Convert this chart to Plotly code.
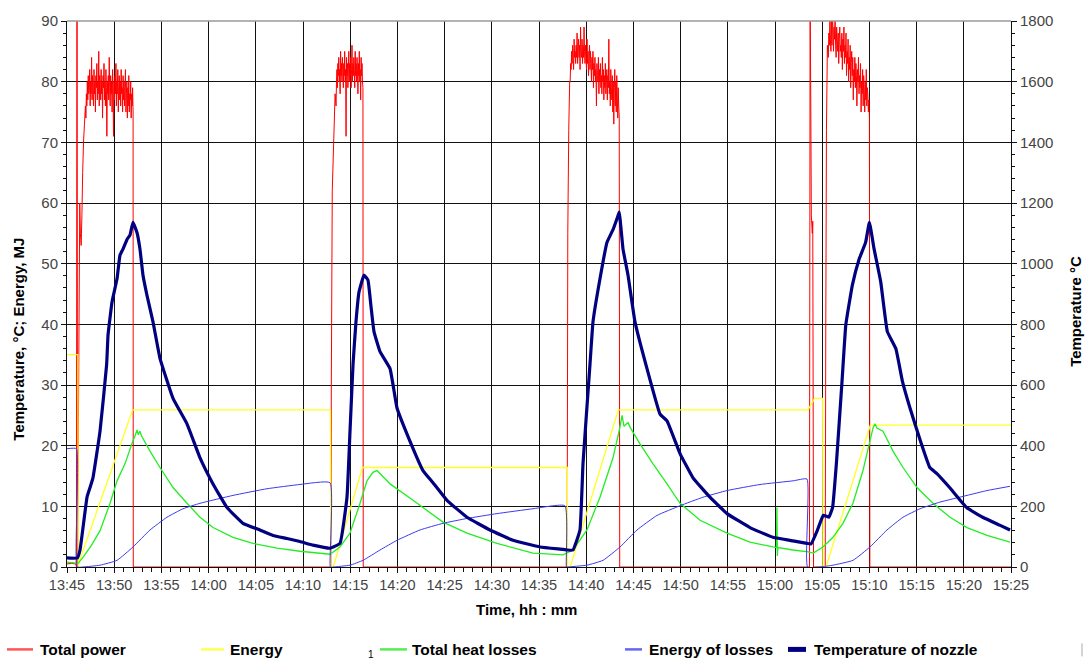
import pandas as pd
import plotly.graph_objects as go

# ---------------------------------------------------------------------------
# Time base: all series are given in minutes after 13:45
# ---------------------------------------------------------------------------
T0 = pd.Timestamp("2010-01-01 13:45:00")


def clock(minutes):
    return [T0 + pd.Timedelta(minutes=float(m)) for m in minutes]


def spread(t_start, t_end, values):
    n = len(values)
    return [t_start + (t_end - t_start) * i / (n - 1) for i in range(n)]


# ---------------------------------------------------------------------------
# Total power (left axis): switch-on transients and four noisy plateaus
# ---------------------------------------------------------------------------
pw_start_t = [0, 0.5, 0.95, 1.0, 1.06, 1.12, 1.35, 1.42, 1.5, 1.58, 1.66, 1.75, 1.85, 1.95]
pw_start_v = [0.5, 0.6, 0.5, 0, 95, 0, 60, 55, 53, 58, 65, 70, 73, 76]

pw_plateau1 = [74, 78, 76, 80, 77, 81, 78, 79, 82, 76, 80, 78, 84, 77, 81, 79, 76, 82, 78, 80,
               75, 81, 79, 83, 77, 80, 78, 85, 76, 81, 79, 77, 82, 78, 80, 74, 81, 79, 83, 77,
               80, 76, 82, 79, 71, 80, 78, 81, 77, 84, 79, 76, 81, 78, 80, 75, 82, 79, 71, 80,
               77, 81, 78, 83, 76, 80, 78, 82, 75, 79, 81, 77, 80, 76, 82, 78, 79, 75, 81, 77,
               80, 76, 79, 82, 75, 78, 80, 74, 79, 76, 81, 75, 78, 77, 80, 74, 78, 76, 79, 75]

pw_gap1_t = [7.02, 27.95, 28.0, 28.1, 28.25, 28.4]
pw_gap1_v = [0, 0, 30, 62, 70, 78]

pw_plateau2 = [76, 80, 82, 79, 83, 81, 84, 80, 82, 78, 85, 81, 83, 80, 84, 82, 79, 83, 81, 85,
               80, 82, 71, 84, 81, 83, 79, 82, 85, 80, 83, 81, 84, 79, 82, 86, 80, 83, 81, 84,
               82, 79, 85, 81, 83, 80, 84, 82, 78, 83, 81, 85, 80, 82, 77, 84, 81, 83, 80, 79]

pw_gap2_t = [31.38, 52.98, 53.05, 53.15, 53.25]
pw_gap2_v = [0, 0, 55, 72, 80]

pw_plateau3 = [80, 83, 82, 85, 83, 86, 84, 82, 87, 84, 85, 83, 86, 84, 88, 83, 85, 87, 84, 86,
               82, 89, 85, 84, 87, 83, 86, 84, 89, 85, 83, 86, 84, 82, 87, 83, 85, 81, 84, 86,
               82, 85, 83, 80, 84, 82, 85, 79, 83, 81, 84, 80, 82, 76, 83, 81, 80, 84, 78, 82,
               80, 83, 79, 81, 78, 84, 80, 82, 77, 81, 79, 83, 78, 80, 82, 77, 81, 79, 87, 78,
               80, 76, 82, 79, 77, 81, 75, 80, 73, 79, 82, 76, 80, 75, 81, 78, 74, 79, 76, 74]

pw_gap3_t = [58.55, 78.65, 78.72, 78.8, 78.85, 78.95, 79.0, 79.08, 80.32, 80.38, 80.45, 80.55]
pw_gap3_v = [0, 0, 95, 74, 58, 55, 57, 0, 0, 40, 72, 86]

pw_plateau4 = [84, 88, 86, 91, 87, 85, 90, 86, 92, 88, 85, 89, 87, 91, 86, 84, 89, 87, 85, 88,
               83, 87, 89, 85, 86, 84, 88, 82, 87, 85, 89, 83, 86, 84, 88, 81, 85, 83, 87, 80,
               84, 82, 86, 79, 83, 85, 81, 84, 77, 82, 80, 84, 79, 83, 81, 76, 82, 80, 84, 78,
               81, 79, 83, 75, 80, 78, 82, 76, 81, 79, 75, 80, 77, 82, 76, 79, 78, 75, 77, 74]

pw_end_t = [85.05, 100]
pw_end_v = [0, 0]

power_t = (pw_start_t + spread(2.0, 7.0, pw_plateau1) + pw_gap1_t
           + spread(28.5, 31.35, pw_plateau2) + pw_gap2_t
           + spread(53.3, 58.5, pw_plateau3) + pw_gap3_t
           + spread(80.65, 85.0, pw_plateau4) + pw_end_t)
power_v = (pw_start_v + pw_plateau1 + pw_gap1_v + pw_plateau2 + pw_gap2_v
           + pw_plateau3 + pw_gap3_v + pw_plateau4 + pw_end_v)

# ---------------------------------------------------------------------------
# Energy, MJ (left axis)
# ---------------------------------------------------------------------------
energy_t = [0, 1.15, 1.18, 1.2, 6.95, 27.9, 27.93, 28.2, 31.3, 53.0, 53.03, 53.3, 58.4,
            78.5, 79.2, 80.05, 80.08, 80.4, 85.1, 100]
energy_v = [35, 35, 0, 0.5, 25.9, 25.9, 0, 0, 16.4, 16.4, 0, 0, 25.9,
            25.9, 27.8, 27.8, 0, 0, 23.4, 23.4]

# ---------------------------------------------------------------------------
# Total heat losses (left axis)
# ---------------------------------------------------------------------------
losses_t = [0, 1.17, 1.69, 2.6, 3.5, 4.56, 5.3, 6.14, 6.99, 7.2, 7.42, 7.55, 7.73, 7.9, 8.79,
            9.85, 11.23, 12.71, 14.09, 15.47, 17.58, 19.7, 22.25, 24.68, 27.86,
            28.92, 29.98, 31.04, 31.78, 32.4, 32.84, 33.1, 34.22, 36.65, 39.83, 42.37, 45.55,
            49.36, 52.54,
            53.6, 55.08, 56.46, 57.84, 58.5, 58.8, 59.0, 59.43, 59.7, 60.7, 62.08, 63.56, 64.94,
            67.06, 69.92, 72.35, 74.79, 75.15, 75.2, 75.25, 75.3, 76.91, 78.5, 79.05, 80.08,
            81.14, 82.2, 83.26, 84.32, 85.06, 85.4, 85.59, 85.8, 86.44, 87.5, 88.56, 90.04,
            91.74, 93.54, 95.34, 97.46, 99.89]
losses_v = [0.8, 0.6, 1.6, 3.6, 6.0, 10.5, 14.2, 17.0, 20.8, 21.6, 22.6, 21.8, 22.4, 21.6, 19.1,
            16.4, 13.1, 10.5, 8.2, 6.5, 4.9, 3.9, 3.1, 2.6, 2.1,
            3.3, 5.6, 10.5, 14.2, 15.6, 15.9, 15.5, 13.7, 11.0, 7.4, 5.6, 3.9,
            2.3, 2.0,
            2.8, 6.1, 11.5, 18.0, 22.5, 25.0, 23.2, 23.8, 22.9, 20.3, 17.0, 13.7, 10.5,
            7.7, 5.6, 4.1, 3.3, 3.2, 9.8, 1.8, 3.2, 2.8, 2.5, 2.3, 3.3,
            4.9, 7.2, 10.5, 15.9, 20.8, 23.0, 23.6, 22.9, 22.4, 19.1, 16.4, 13.1,
            10.5, 8.2, 6.5, 5.2, 4.1]

# ---------------------------------------------------------------------------
# Energy of losses (left axis)
# ---------------------------------------------------------------------------
eloss_t = [0, 1.0, 1.05, 1.69, 3.5, 5.3, 6.99, 8.79, 10.59, 12.29, 14.09, 17.58, 21.19, 24.68,
           27.86, 27.9, 28.18, 29.98, 31.36, 33.16, 34.96, 37.39, 39.83, 42.37, 45.55, 49.36,
           52.75, 52.9, 52.97, 55.08, 56.78, 58.58, 60.38, 62.5, 64.94, 67.37, 69.92, 73.41,
           76.91, 78.39, 78.45, 79.77, 81.14, 83.26, 85.06, 86.86, 88.56, 90.36, 92.48, 95.34,
           97.46, 99.89]
eloss_v = [19.5, 19.5, 0, 0, 0.3, 1.1, 3.3, 6.1, 8.2, 9.6, 10.5, 11.8, 12.9, 13.6,
           13.9, 0, 0, 0.3, 1.1, 2.8, 4.4, 6.1, 7.2, 8.0, 8.8, 9.6,
           10.1, 0, 0, 0.3, 1.1, 3.3, 6.1, 8.5, 10.1, 11.5, 12.6, 13.6,
           14.2, 14.5, 0, 0, 0.3, 1.1, 3.3, 6.1, 8.2, 9.6, 10.7, 11.8,
           12.6, 13.3]

# ---------------------------------------------------------------------------
# Temperature of nozzle, degC (right axis)
# ---------------------------------------------------------------------------
nozzle_t = [0, 1.1, 1.38, 2.12, 2.44, 2.75, 3.5, 4.2, 4.35, 4.77, 5.3, 5.61, 5.93, 6.36, 6.67,
            6.99, 7.42, 7.73, 8.05, 8.47, 9.11, 9.85, 11.23, 12.71, 14.09, 15.47, 16.95, 18.64,
            20.44, 21.82, 23.31, 24.68, 26.06, 27.86,
            28.92, 29.66, 29.98, 30.3, 30.61, 30.93, 31.46, 31.88, 32.2, 32.52, 33.16, 34.22,
            34.96, 36.02, 37.71, 38.77, 40.25, 42.37, 44.81, 47.25, 50.11, 52.54,
            53.0, 53.6, 54.34, 54.66, 55.4, 55.72, 56.46, 57.2, 57.84, 58.37, 58.5, 58.9, 59.43,
            60.17, 61.44, 62.82, 63.56, 64.94, 66.31, 68.11, 69.92, 72.35, 74.79, 76.91, 78.39,
            78.82, 79.5, 80.1, 80.4, 80.7, 81.1, 81.5, 82.1, 82.5, 83.2, 83.9, 84.6, 85.0,
            85.5, 86.2, 86.9, 87.8, 88.5, 89.3, 90.4, 91.4, 92.15, 93.5, 95.3, 97.0, 98.8, 99.9]
nozzle_v = [30, 30, 56, 230, 262, 294, 448, 668, 766, 874, 950, 1028, 1048, 1080, 1094,
            1136, 1102, 1048, 962, 896, 808, 688, 556, 472, 360, 274, 196, 144,
            122, 104, 94, 84, 72, 62,
            78, 230, 448, 668, 808, 906, 962, 946, 860, 776, 710, 654,
            524, 438, 318, 278, 220, 164, 122, 88, 66, 58,
            56, 56, 122, 340, 668, 808, 950, 1070, 1112, 1158, 1170, 1048, 962,
            808, 654, 504, 482, 374, 294, 230, 176, 130, 98, 86, 78,
            76, 122, 170, 168, 164, 196, 340, 612, 798, 930, 1014, 1070, 1136,
            1048, 940, 776, 720, 612, 524, 416, 328, 308, 262, 196, 164, 138, 122]

legend_labels = ["Total power", "Energy", "Total heat losses", "Energy of losses",
                 "Temperature of nozzle"]

# ---------------------------------------------------------------------------
# Figure
# ---------------------------------------------------------------------------
FONT = "Liberation Sans, Arial, sans-serif"
W, H = 1085, 661
PL, PR, PT, PB = 67, 1011, 17, 567


def px(x):
    return (x - PL) / (PR - PL)


def py(y):
    return (PB - y) / (PB - PT)


C_POWER = "#FF0000"
C_ENERGY = "#FFFF20"
C_LOSS = "#22EE22"
C_ELOSS = "#3A3AF0"
C_NOZZLE = "#000080"

fig = go.Figure()
fig.add_trace(go.Scatter(x=clock(power_t), y=power_v, mode="lines", name=legend_labels[0],
                         line=dict(color=C_POWER, width=1, simplify=False)))
fig.add_trace(go.Scatter(x=clock(energy_t), y=energy_v, mode="lines", name=legend_labels[1],
                         line=dict(color=C_ENERGY, width=1.3)))
fig.add_trace(go.Scatter(x=clock(losses_t), y=losses_v, mode="lines", name=legend_labels[2],
                         line=dict(color=C_LOSS, width=1.3, simplify=False)))
fig.add_trace(go.Scatter(x=clock(eloss_t), y=eloss_v, mode="lines", name=legend_labels[3],
                         line=dict(color=C_ELOSS, width=1, shape="spline", smoothing=0.4)))
fig.add_trace(go.Scatter(x=clock(nozzle_t), y=nozzle_v, mode="lines", name=legend_labels[4],
                         yaxis="y2", line=dict(color=C_NOZZLE, width=3.2, shape="spline",
                                               smoothing=0.3)))

x_start = T0
x_end = T0 + pd.Timedelta(minutes=100)

tick_font = dict(family=FONT, size=14.5, color="#444444")
ytick_font = dict(family=FONT, size=15, color="#444444")

fig.update_layout(
    width=W, height=H,
    margin=dict(l=PL, r=W - PR, t=PT, b=H - PB),
    paper_bgcolor="white", plot_bgcolor="white",
    showlegend=False,
    font=dict(family=FONT, size=14, color="#333333"),
    xaxis=dict(
        type="date", range=[x_start, x_end], tickformat="%H:%M",
        dtick=300000, tick0=x_start,
        showgrid=True, gridcolor="#111111", gridwidth=1,
        showline=True, linecolor="#111111", linewidth=1,
        ticks="outside", ticklen=5, tickcolor="#111111",
        minor=dict(dtick=60000, ticks="outside", ticklen=4, tickcolor="#111111", showgrid=False),
        tickfont=tick_font,
        zeroline=False, layer="below traces",
    ),
    yaxis=dict(
        range=[0, 90], dtick=10, tick0=0,
        showgrid=True, gridcolor="#111111", gridwidth=1,
        showline=True, linecolor="#111111", linewidth=1,
        ticks="outside", ticklen=5, tickcolor="#111111",
        minor=dict(dtick=2, ticks="outside", ticklen=3, tickcolor="#111111", showgrid=False),
        tickfont=ytick_font,
        zeroline=False, layer="below traces",
    ),
    yaxis2=dict(
        range=[0, 1800], dtick=200, tick0=0, overlaying="y", side="right",
        showgrid=False,
        showline=True, linecolor="#111111", linewidth=1,
        ticks="outside", ticklen=5, tickcolor="#111111",
        minor=dict(dtick=40, ticks="outside", ticklen=3, tickcolor="#111111"),
        tickfont=ytick_font,
        zeroline=False,
    ),
)

# light frame along the top of the plot area
fig.add_shape(type="line", xref="paper", yref="paper", x0=0, x1=1, y0=1, y1=1,
              line=dict(color="#9a9a9a", width=1.5))

title_font = dict(family=FONT, size=15, color="black")
fig.add_annotation(text="<b>Temperature, °C; Energy, MJ</b>", xref="paper", yref="paper",
                   x=px(19), y=py(338), textangle=-90, showarrow=False, font=title_font,
                   xanchor="center", yanchor="middle")
fig.add_annotation(text="<b>Temperature °C</b>", xref="paper", yref="paper",
                   x=px(1076), y=py(310), textangle=-90, showarrow=False, font=title_font,
                   xanchor="center", yanchor="middle")
fig.add_annotation(text="<b>Time, hh : mm</b>", xref="paper", yref="paper",
                   x=px(526), y=py(610), showarrow=False, font=title_font,
                   xanchor="center", yanchor="middle")

# legend row along the bottom
legend_items = [
    (legend_labels[0], "#FF5555", 2.5, 7, 33, 38),
    (legend_labels[1], "#FFFF55", 2.5, 201, 224, 228),
    (legend_labels[2], "#55EE55", 2.5, 380, 407, 410),
    (legend_labels[3], "#6666F5", 2.5, 625, 642, 647),
    (legend_labels[4], C_NOZZLE, 5, 788, 806, 812),
]
LEG_Y = 650
for label, colour, width, x0, x1, xt in legend_items:
    fig.add_shape(type="line", xref="paper", yref="paper",
                  x0=px(x0), x1=px(x1), y0=py(LEG_Y), y1=py(LEG_Y),
                  line=dict(color=colour, width=width))
    fig.add_annotation(text="<b>" + label + "</b>", xref="paper", yref="paper",
                       x=px(xt), y=py(LEG_Y), xanchor="left", yanchor="middle",
                       showarrow=False, font=dict(family=FONT, size=15.5, color="black"))
fig.add_annotation(text="1", xref="paper", yref="paper", x=px(371), y=py(655),
                   xanchor="center", yanchor="middle",
                   showarrow=False, font=dict(family=FONT, size=10, color="black"))
fig.add_shape(type="line", xref="paper", yref="paper", x0=px(1082), x1=px(1082),
              y0=py(644), y1=py(657), line=dict(color="#aaaaaa", width=1))

fig.write_html("out.html")
